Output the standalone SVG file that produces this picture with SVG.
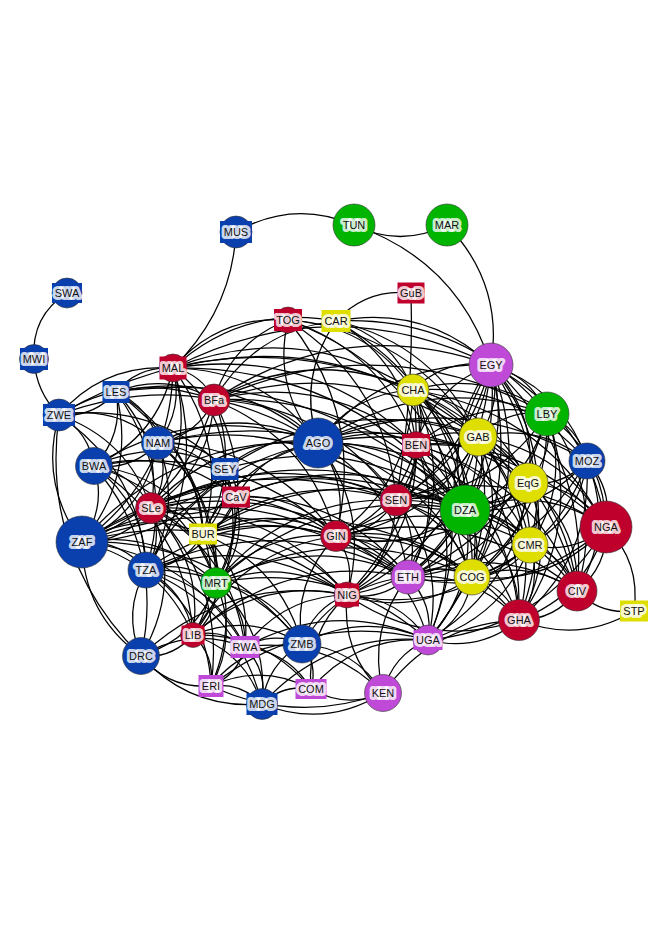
<svg xmlns="http://www.w3.org/2000/svg" width="654" height="925" viewBox="0 0 654 925">
<style>
.e path{fill:none;stroke:#000;stroke-width:1.25}
.b{fill:#0a3fae}.r{fill:#c0002c}.g{fill:#00b400}.y{fill:#dede00}.p{fill:#c04ad8}
circle{stroke:#333;stroke-width:0.6}
text{font-family:"Liberation Sans",Arial,sans-serif;font-size:11px;fill:#111;text-anchor:middle;dominant-baseline:central;paint-order:stroke;stroke:#fff;stroke-opacity:0.8;stroke-width:6px;stroke-linejoin:round}
</style>
<rect width="654" height="925" fill="#fff"/>
<g class="e" id="edges">
<path d="M34 359Q31 316 67 293"/><path d="M59 415Q36 392 34 359"/><path d="M236 232Q232 310 173 368"/><path d="M236 232Q293 199 354 225"/><path d="M447 225Q400 248 354 225"/><path d="M354 225Q458 261 491 365"/><path d="M447 225Q504 284 491 365"/><path d="M336 321Q367 288 411 293"/><path d="M411 293Q414 397 396 500"/>
<path d="M116 392Q138 366 173 368"/><path d="M59 415Q104 363 173 368"/><path d="M173 368Q202 374 214 400"/><path d="M173 368Q184 409 158 443"/><path d="M173 368Q158 437 94 466"/><path d="M173 368Q197 444 151 508"/><path d="M173 368Q230 444 203 534"/><path d="M173 368Q264 369 318 443"/><path d="M173 368Q299 319 413 390"/><path d="M173 368Q314 346 416 445"/><path d="M173 368Q219 315 288 320"/><path d="M173 368Q243 304 336 321"/><path d="M173 368Q224 406 225 469"/><path d="M173 368Q171 478 82 542"/><path d="M173 368Q210 476 146 570"/><path d="M173 368Q331 287 491 365"/><path d="M173 368Q343 326 478 437"/><path d="M173 368Q355 366 465 510"/>
<path d="M116 392Q93 418 59 415"/><path d="M116 392Q124 435 94 466"/><path d="M116 392Q150 407 158 443"/><path d="M116 392Q167 372 214 400"/><path d="M116 392Q137 476 82 542"/><path d="M116 392Q163 441 151 508"/><path d="M116 392Q230 367 318 443"/><path d="M116 392Q176 474 146 570"/><path d="M116 392Q195 441 203 534"/><path d="M116 392Q214 463 216 583"/><path d="M116 392Q320 364 465 510"/>
<path d="M59 415Q89 432 94 466"/><path d="M59 415Q116 404 158 443"/><path d="M82 542Q39 484 59 415"/><path d="M59 415Q128 439 151 508"/><path d="M59 415Q141 471 146 570"/><path d="M59 415Q133 369 214 400"/><path d="M59 415Q196 364 318 443"/><path d="M59 415Q156 401 225 469"/><path d="M141 656Q40 556 59 415"/><path d="M59 415Q230 314 413 390"/>
<path d="M214 400Q197 436 158 443"/><path d="M214 400Q210 470 151 508"/><path d="M214 400Q242 470 203 534"/><path d="M214 400Q277 396 318 443"/><path d="M214 400Q311 345 413 390"/><path d="M214 400Q326 372 416 445"/><path d="M214 400Q330 405 396 500"/><path d="M214 400Q355 353 478 437"/><path d="M214 400Q231 342 288 320"/><path d="M214 400Q255 330 336 321"/><path d="M214 400Q344 313 491 365"/><path d="M214 400Q367 392 465 510"/><path d="M214 400Q384 324 547 414"/><path d="M214 400Q184 504 82 542"/><path d="M214 400Q261 491 216 583"/><path d="M214 400Q309 438 336 536"/>
<path d="M158 443Q132 471 94 466"/><path d="M158 443Q171 477 151 508"/><path d="M158 443Q145 512 82 542"/><path d="M158 443Q238 403 318 443"/><path d="M158 443Q203 477 203 534"/><path d="M158 443Q184 510 146 570"/><path d="M158 443Q198 439 225 469"/><path d="M158 443Q211 451 236 497"/><path d="M158 443Q222 499 216 583"/><path d="M158 443Q270 445 336 536"/><path d="M158 443Q291 412 396 500"/><path d="M158 443Q328 400 465 510"/>
<path d="M94 466Q107 507 82 542"/><path d="M94 466Q133 473 151 508"/><path d="M94 466Q146 505 146 570"/><path d="M94 466Q166 473 203 534"/><path d="M94 466Q200 399 318 443"/><path d="M94 466Q160 435 225 469"/><path d="M94 466Q173 446 236 497"/><path d="M94 466Q184 494 216 583"/><path d="M94 466Q165 549 141 656"/><path d="M94 466Q233 441 336 536"/><path d="M94 466Q186 526 193 635"/>
<path d="M225 469Q238 480 236 497"/><path d="M225 469Q230 507 203 534"/><path d="M225 469Q265 433 318 443"/><path d="M225 469Q198 507 151 508"/><path d="M225 469Q249 528 216 583"/><path d="M225 469Q355 430 465 510"/><path d="M225 469Q344 390 478 437"/><path d="M225 469Q251 560 193 635"/><path d="M225 469Q172 541 82 542"/>
<path d="M236 497Q229 524 203 534"/><path d="M236 497Q196 524 151 508"/><path d="M236 497Q264 450 318 443"/><path d="M236 497Q248 545 216 583"/><path d="M236 497Q296 492 336 536"/><path d="M236 497Q317 459 396 500"/><path d="M236 497Q354 446 465 510"/><path d="M236 497Q342 494 408 577"/><path d="M236 497Q209 556 146 570"/>
<path d="M151 508Q125 542 82 542"/><path d="M151 508Q184 508 203 534"/><path d="M151 508Q164 540 146 570"/><path d="M151 508Q202 529 216 583"/><path d="M151 508Q204 561 193 635"/><path d="M151 508Q251 476 336 536"/><path d="M151 508Q218 434 318 443"/><path d="M151 508Q272 443 396 500"/><path d="M151 508Q309 431 465 510"/><path d="M151 508Q271 503 347 595"/><path d="M151 508Q297 478 408 577"/><path d="M151 508Q183 585 141 656"/><path d="M151 508Q233 554 245 647"/><path d="M151 508Q226 582 211 686"/>
<path d="M82 542Q121 540 146 570"/><path d="M82 542Q141 508 203 534"/><path d="M141 656Q83 614 82 542"/><path d="M82 542Q159 529 216 583"/><path d="M82 542Q161 561 193 635"/><path d="M82 542Q175 434 318 443"/><path d="M82 542Q208 476 336 536"/><path d="M82 542Q228 502 347 595"/><path d="M82 542Q229 443 396 500"/><path d="M82 542Q266 430 465 510"/><path d="M82 542Q254 478 408 577"/><path d="M82 542Q218 538 302 644"/><path d="M82 542Q190 554 245 647"/>
<path d="M203 534Q184 566 146 570"/><path d="M203 534Q222 555 216 583"/><path d="M203 534Q223 587 193 635"/><path d="M203 534Q270 502 336 536"/><path d="M203 534Q238 460 318 443"/><path d="M203 534Q291 469 396 500"/><path d="M203 534Q328 457 465 510"/><path d="M203 534Q290 529 347 595"/><path d="M203 534Q316 504 408 577"/><path d="M203 534Q348 488 472 577"/><path d="M203 534Q252 580 245 647"/><path d="M203 534Q280 564 302 644"/><path d="M203 534Q245 608 211 686"/>
<path d="M146 570Q184 559 216 583"/><path d="M146 570Q186 591 193 635"/><path d="M141 656Q122 612 146 570"/><path d="M146 570Q215 584 245 647"/><path d="M146 570Q208 612 211 686"/><path d="M146 570Q233 506 336 536"/><path d="M146 570Q253 532 347 595"/><path d="M146 570Q243 568 302 644"/><path d="M146 570Q279 508 408 577"/><path d="M146 570Q238 608 262 704"/><path d="M146 570Q200 464 318 443"/>
<path d="M216 583Q218 615 193 635"/><path d="M216 583Q247 608 245 647"/><path d="M216 583Q239 636 211 686"/><path d="M216 583Q274 592 302 644"/><path d="M216 583Q285 556 347 595"/><path d="M216 583Q264 530 336 536"/><path d="M216 583Q311 532 408 577"/><path d="M216 583Q322 484 465 510"/><path d="M216 583Q343 516 472 577"/><path d="M216 583Q285 497 396 500"/><path d="M216 583Q269 632 262 704"/><path d="M216 583Q197 638 141 656"/><path d="M216 583Q336 559 428 640"/>
<path d="M193 635Q222 628 245 647"/><path d="M193 635Q215 656 211 686"/><path d="M193 635Q245 652 262 704"/><path d="M193 635Q172 659 141 656"/><path d="M193 635Q250 612 302 644"/><path d="M193 635Q260 577 347 595"/><path d="M193 635Q266 633 311 689"/><path d="M193 635Q240 550 336 536"/><path d="M193 635Q286 552 408 577"/>
<path d="M245 647Q238 675 211 686"/><path d="M245 647Q268 671 262 704"/><path d="M245 647Q273 631 302 644"/><path d="M245 647Q289 652 311 689"/><path d="M245 647Q283 596 347 595"/><path d="M245 647Q335 598 428 640"/><path d="M245 647Q326 636 383 693"/><path d="M141 656Q191 626 245 647"/>
<path d="M211 686Q168 689 141 656"/><path d="M262 704Q190 710 141 656"/><path d="M141 656Q229 574 347 595"/>
<path d="M211 686Q241 682 262 704"/><path d="M211 686Q262 663 311 689"/><path d="M211 686Q246 642 302 644"/><path d="M383 693Q295 725 211 686"/><path d="M211 686Q308 609 428 640"/>
<path d="M262 704Q283 684 311 689"/><path d="M383 693Q325 729 262 704"/><path d="M262 704Q267 664 302 644"/><path d="M262 704Q329 631 428 640"/>
<path d="M302 644Q312 608 347 595"/><path d="M302 644Q318 664 311 689"/><path d="M302 644Q292 582 336 536"/><path d="M302 644Q364 611 428 640"/><path d="M302 644Q338 584 408 577"/><path d="M302 644Q355 648 383 693"/>
<path d="M383 693Q346 709 311 689"/><path d="M311 689Q357 635 428 640"/><path d="M311 689Q306 633 347 595"/>
<path d="M383 693Q392 655 428 640"/><path d="M383 693Q367 629 408 577"/><path d="M383 693Q341 653 347 595"/><path d="M383 693Q433 623 519 620"/>
<path d="M318 443Q352 393 413 390"/><path d="M318 443Q368 420 416 445"/><path d="M318 443Q371 452 396 500"/><path d="M318 443Q350 485 336 536"/><path d="M318 443Q408 440 465 510"/><path d="M318 443Q397 400 478 437"/><path d="M318 443Q385 361 491 365"/><path d="M318 443Q425 371 547 414"/><path d="M318 443Q457 385 587 461"/><path d="M318 443Q433 411 528 483"/><path d="M318 443Q483 413 606 527"/><path d="M318 443Q397 488 408 577"/><path d="M318 443Q429 472 472 577"/><path d="M318 443Q371 512 347 595"/><path d="M318 443Q450 441 530 545"/><path d="M318 443Q272 389 288 320"/><path d="M318 443Q297 378 336 321"/>
<path d="M288 320Q368 324 413 390"/><path d="M288 320Q383 351 416 445"/><path d="M288 320Q387 383 396 500"/><path d="M288 320Q424 371 465 510"/><path d="M288 320Q412 331 478 437"/><path d="M288 320Q366 416 336 536"/>
<path d="M336 321Q392 336 413 390"/><path d="M336 321Q407 363 416 445"/><path d="M336 321Q425 304 491 365"/><path d="M336 321Q436 344 478 437"/><path d="M336 321Q448 383 465 510"/><path d="M336 321Q465 315 547 414"/>
<path d="M413 390Q428 417 416 445"/><path d="M413 390Q446 358 491 365"/><path d="M413 390Q457 397 478 437"/><path d="M413 390Q486 369 547 414"/><path d="M413 390Q469 437 465 510"/><path d="M413 390Q432 449 396 500"/><path d="M413 390Q494 408 528 483"/><path d="M413 390Q518 382 587 461"/><path d="M413 390Q544 410 606 527"/><path d="M413 390Q510 438 530 545"/><path d="M413 390Q489 469 472 577"/><path d="M413 390Q457 485 408 577"/>
<path d="M413 390Q524 479 519 620"/><path d="M413 390Q545 450 577 591"/><path d="M413 390Q483 511 428 640"/><path d="M413 390Q431 509 347 595"/><path d="M413 390Q411 482 336 536"/>
<path d="M416 445Q420 478 396 500"/><path d="M416 445Q457 465 465 510"/><path d="M416 445Q445 426 478 437"/><path d="M416 445Q482 436 528 483"/><path d="M416 445Q498 467 530 545"/><path d="M416 445Q532 439 606 527"/><path d="M416 445Q477 497 472 577"/><path d="M416 445Q445 513 408 577"/><path d="M416 445Q399 511 336 536"/><path d="M416 445Q419 537 347 595"/><path d="M416 445Q434 386 491 365"/><path d="M416 445Q474 397 547 414"/>
<path d="M416 445Q511 507 519 620"/><path d="M416 445Q533 478 577 591"/><path d="M416 445Q471 540 428 640"/>
<path d="M491 365Q503 404 478 437"/><path d="M491 365Q531 376 547 414"/><path d="M491 365Q563 389 587 461"/><path d="M491 365Q539 415 528 483"/><path d="M491 365Q514 444 465 510"/><path d="M491 365Q589 417 606 527"/><path d="M491 365Q556 445 530 545"/><path d="M491 365Q535 476 472 577"/><path d="M491 365Q477 456 396 500"/><path d="M491 365Q503 492 408 577"/>
<path d="M491 365Q569 486 519 620"/><path d="M491 365Q591 457 577 591"/><path d="M491 365Q456 489 336 536"/><path d="M491 365Q477 516 347 595"/><path d="M491 365Q528 518 428 640"/><path d="M465 510Q442 431 491 365"/><path d="M472 577Q428 476 491 365"/>
<path d="M478 437Q507 408 547 414"/><path d="M478 437Q515 448 528 483"/><path d="M478 437Q490 477 465 510"/><path d="M478 437Q531 478 530 545"/><path d="M478 437Q565 450 606 527"/><path d="M478 437Q510 509 472 577"/><path d="M478 437Q539 422 587 461"/><path d="M478 437Q453 489 396 500"/><path d="M478 437Q478 525 408 577"/><path d="M478 437Q544 518 519 620"/><path d="M478 437Q566 489 577 591"/>
<path d="M478 437Q452 549 347 595"/><path d="M478 437Q504 551 428 640"/><path d="M478 437Q432 522 336 536"/>
<path d="M547 414Q579 428 587 461"/><path d="M547 414Q555 453 528 483"/><path d="M547 414Q530 483 465 510"/><path d="M547 414Q605 456 606 527"/><path d="M547 414Q571 484 530 545"/><path d="M547 414Q550 514 472 577"/><path d="M547 414Q606 495 577 591"/><path d="M547 414Q585 524 519 620"/>
<path d="M547 414Q518 530 408 577"/><path d="M547 414Q493 495 396 500"/>
<path d="M587 461Q563 487 528 483"/><path d="M587 461Q613 489 606 527"/><path d="M587 461Q580 517 530 545"/><path d="M587 461Q538 516 465 510"/><path d="M587 461Q615 529 577 591"/><path d="M587 461Q593 558 519 620"/><path d="M587 461Q559 548 472 577"/><path d="M587 461Q527 564 408 577"/>
<path d="M528 483Q503 512 465 510"/><path d="M528 483Q578 486 606 527"/><path d="M528 483Q545 514 530 545"/><path d="M528 483Q524 544 472 577"/><path d="M528 483Q580 525 577 591"/><path d="M528 483Q558 554 519 620"/><path d="M528 483Q492 560 408 577"/><path d="M528 483Q466 525 396 500"/><path d="M528 483Q517 587 428 640"/><path d="M528 483Q445 558 336 536"/>
<path d="M396 500Q433 488 465 510"/><path d="M396 500Q375 533 336 536"/><path d="M396 500Q395 560 347 595"/><path d="M396 500Q421 536 408 577"/><path d="M396 500Q453 520 472 577"/><path d="M396 500Q474 489 530 545"/><path d="M396 500Q488 529 519 620"/><path d="M396 500Q447 562 428 640"/><path d="M396 500Q508 461 606 527"/><path d="M396 500Q509 500 577 591"/>
<path d="M465 510Q506 511 530 545"/><path d="M465 510Q540 483 606 527"/><path d="M465 510Q485 542 472 577"/><path d="M465 510Q453 558 408 577"/><path d="M465 510Q407 555 336 536"/><path d="M465 510Q427 582 347 595"/><path d="M465 510Q520 552 519 620"/><path d="M465 510Q541 523 577 591"/><path d="M465 510Q479 584 428 640"/><path d="M408 577Q420 529 465 510"/>
<path d="M606 527Q573 555 530 545"/><path d="M606 527Q608 566 577 591"/><path d="M606 527Q586 595 519 620"/><path d="M606 527Q552 586 472 577"/><path d="M606 527Q641 562 634 611"/><path d="M606 527Q520 602 408 577"/><path d="M606 527Q545 628 428 640"/>
<path d="M530 545Q509 576 472 577"/><path d="M530 545Q565 556 577 591"/><path d="M530 545Q543 585 519 620"/><path d="M530 545Q477 592 408 577"/><path d="M530 545Q503 618 428 640"/><path d="M530 545Q451 616 347 595"/>
<path d="M336 536Q356 563 347 595"/><path d="M336 536Q382 539 408 577"/><path d="M336 536Q414 523 472 577"/><path d="M336 536Q449 532 519 620"/><path d="M336 536Q408 565 428 640"/><path d="M336 536Q435 492 530 545"/><path d="M336 536Q470 503 577 591"/>
<path d="M408 577Q440 561 472 577"/><path d="M408 577Q382 601 347 595"/><path d="M408 577Q434 604 428 640"/><path d="M408 577Q474 571 519 620"/><path d="M408 577Q496 542 577 591"/>
<path d="M472 577Q506 587 519 620"/><path d="M472 577Q528 558 577 591"/><path d="M472 577Q466 620 428 640"/><path d="M472 577Q414 617 347 595"/>
<path d="M577 591Q555 620 519 620"/><path d="M634 611Q600 615 577 591"/><path d="M634 611Q579 644 519 620"/><path d="M519 620Q479 653 428 640"/><path d="M519 620Q427 651 347 595"/><path d="M347 595Q399 597 428 640"/>
</g>
<g id="nodes">
<g id="MUS"><circle class="b" cx="236" cy="232" r="16"/><rect class="b" x="220" y="221" width="32" height="22"/><text x="236" y="232">MUS</text></g>
<g id="TUN"><circle class="g" cx="354" cy="225" r="21"/><text x="354" y="225">TUN</text></g>
<g id="MAR"><circle class="g" cx="447" cy="225" r="21"/><text x="447" y="225">MAR</text></g>
<g id="SWA"><circle class="b" cx="67" cy="293" r="15"/><rect class="b" x="52" y="283" width="30" height="20"/><text x="67" y="293">SWA</text></g>
<g id="MWI"><circle class="b" cx="34" cy="359" r="14.5"/><rect class="b" x="20" y="348" width="28" height="22"/><text x="34" y="359">MWI</text></g>
<g id="GuB"><rect class="r" x="397.5" y="282.5" width="27" height="21"/><text x="411" y="293">GuB</text></g>
<g id="TOG"><circle class="r" cx="288" cy="320" r="13"/><rect class="r" x="274" y="309" width="28" height="22"/><text x="288" y="320">TOG</text></g>
<g id="CAR"><rect class="y" x="321.5" y="310" width="29" height="22"/><text x="336" y="321">CAR</text></g>
<g id="MAL"><circle class="r" cx="173" cy="368" r="14"/><rect class="r" x="159.5" y="356.5" width="27" height="23"/><text x="173" y="368">MAL</text></g>
<g id="EGY"><circle class="p" cx="491" cy="365" r="22"/><text x="491" y="365">EGY</text></g>
<g id="LES"><rect class="b" x="102.5" y="381" width="27" height="22"/><text x="116" y="392">LES</text></g>
<g id="BFa"><circle class="r" cx="214" cy="400" r="16"/><text x="214" y="400">BFa</text></g>
<g id="CHA"><circle class="y" cx="413" cy="390" r="16"/><text x="413" y="390">CHA</text></g>
<g id="ZWE"><circle class="b" cx="59" cy="415" r="16"/><rect class="b" x="43" y="404" width="32" height="22"/><text x="59" y="415">ZWE</text></g>
<g id="LBY"><circle class="g" cx="547" cy="414" r="22"/><text x="547" y="414">LBY</text></g>
<g id="AGO"><circle class="b" cx="318" cy="443" r="25"/><text x="318" y="443">AGO</text></g>
<g id="BEN"><circle class="r" cx="416" cy="445" r="13.5"/><rect class="r" x="402" y="434" width="28" height="22"/><text x="416" y="445">BEN</text></g>
<g id="GAB"><circle class="y" cx="478" cy="437" r="19"/><text x="478" y="437">GAB</text></g>
<g id="NAM"><circle class="b" cx="158" cy="443" r="16.5"/><text x="158" y="443">NAM</text></g>
<g id="SEY"><rect class="b" x="211.5" y="458" width="27" height="22"/><text x="225" y="469">SEY</text></g>
<g id="BWA"><circle class="b" cx="94" cy="466" r="18.5"/><text x="94" y="466">BWA</text></g>
<g id="MOZ"><circle class="b" cx="587" cy="461" r="18"/><text x="587" y="461">MOZ</text></g>
<g id="EqG"><circle class="y" cx="528" cy="483" r="20"/><text x="528" y="483">EqG</text></g>
<g id="CaV"><rect class="r" x="222" y="486.5" width="28" height="21"/><text x="236" y="497">CaV</text></g>
<g id="SEN"><circle class="r" cx="396" cy="500" r="16"/><text x="396" y="500">SEN</text></g>
<g id="DZA"><circle class="g" cx="465" cy="510" r="25"/><text x="465" y="510">DZA</text></g>
<g id="SLe"><circle class="r" cx="151" cy="508" r="15.5"/><text x="151" y="508">SLe</text></g>
<g id="NGA"><circle class="r" cx="606" cy="527" r="26"/><text x="606" y="527">NGA</text></g>
<g id="ZAF"><circle class="b" cx="82" cy="542" r="26"/><text x="82" y="542">ZAF</text></g>
<g id="BUR"><rect class="y" x="189" y="523.5" width="28" height="21"/><text x="203" y="534">BUR</text></g>
<g id="GIN"><circle class="r" cx="336" cy="536" r="15.5"/><text x="336" y="536">GIN</text></g>
<g id="CMR"><circle class="y" cx="530" cy="545" r="18"/><text x="530" y="545">CMR</text></g>
<g id="TZA"><circle class="b" cx="146" cy="570" r="18"/><text x="146" y="570">TZA</text></g>
<g id="MRT"><circle class="g" cx="216" cy="583" r="15.5"/><text x="216" y="583">MRT</text></g>
<g id="ETH"><circle class="p" cx="408" cy="577" r="17"/><text x="408" y="577">ETH</text></g>
<g id="COG"><circle class="y" cx="472" cy="577" r="18"/><text x="472" y="577">COG</text></g>
<g id="NIG"><circle class="r" cx="347" cy="595" r="13"/><rect class="r" x="335" y="583.5" width="24" height="23"/><text x="347" y="595">NIG</text></g>
<g id="CIV"><circle class="r" cx="577" cy="591" r="20"/><text x="577" y="591">CIV</text></g>
<g id="STP"><rect class="y" x="620" y="600.5" width="28" height="21"/><text x="634" y="611">STP</text></g>
<g id="GHA"><circle class="r" cx="519" cy="620" r="20.5"/><text x="519" y="620">GHA</text></g>
<g id="LIB"><circle class="r" cx="193" cy="635" r="12.5"/><rect class="r" x="181.5" y="625.5" width="23" height="19"/><text x="193" y="635">LIB</text></g>
<g id="RWA"><rect class="p" x="230.5" y="636" width="29" height="22"/><text x="245" y="647">RWA</text></g>
<g id="ZMB"><circle class="b" cx="302" cy="644" r="19"/><text x="302" y="644">ZMB</text></g>
<g id="UGA"><circle class="p" cx="428" cy="640" r="15"/><rect class="p" x="413.5" y="630" width="29" height="20"/><text x="428" y="640">UGA</text></g>
<g id="DRC"><circle class="b" cx="141" cy="656" r="18.5"/><text x="141" y="656">DRC</text></g>
<g id="ERI"><rect class="p" x="198.5" y="675" width="25" height="22"/><text x="211" y="686">ERI</text></g>
<g id="COM"><rect class="p" x="295.5" y="679" width="31" height="20"/><text x="311" y="689">COM</text></g>
<g id="KEN"><circle class="p" cx="383" cy="693" r="18.5"/><text x="383" y="693">KEN</text></g>
<g id="MDG"><circle class="b" cx="262" cy="704" r="15.5"/><rect class="b" x="246.5" y="693" width="31" height="22"/><text x="262" y="704">MDG</text></g>
</g>
</svg>
